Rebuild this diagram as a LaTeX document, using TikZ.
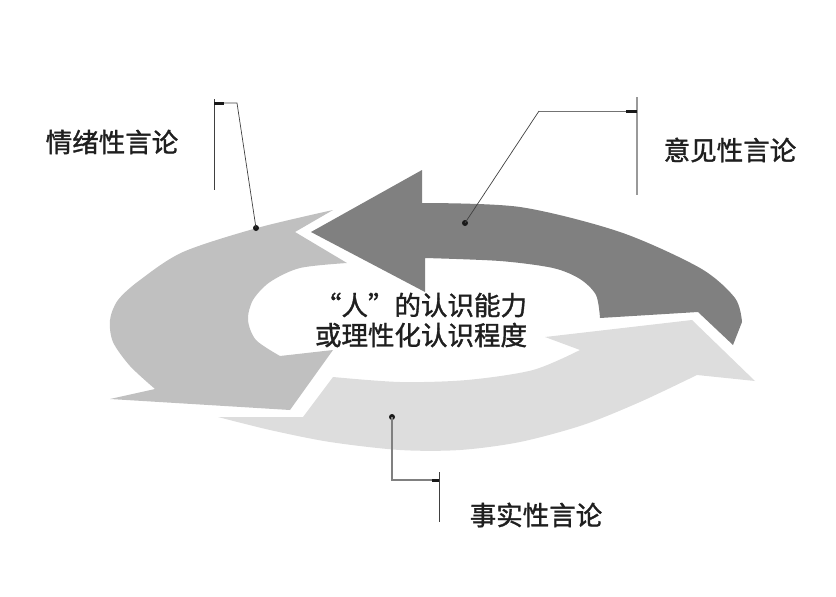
\documentclass[tikz,border=0pt]{standalone}
\usepackage{fontspec}
\newfontfamily\cjk[FakeBold=1.3]{Noto Sans CJK SC}
\definecolor{darkarr}{RGB}{128,128,128}
\definecolor{midarr}{RGB}{192,192,192}
\definecolor{lightarr}{RGB}{221,221,221}
\begin{document}
\begin{tikzpicture}[x=1pt,y=-1pt,
  lbl/.style={font=\cjk\fontsize{26.5}{30}\selectfont, text=black!88, inner sep=0pt},
  dotmark/.style={circle, fill=black!90, inner sep=0pt, minimum size=6pt},
  leader/.style={draw=black!75, line width=0.7pt},
  graylead/.style={draw=black!50, line width=1.1pt},
  bar/.style={draw=black!75, line width=1pt},
  graybar/.style={draw=black!40, line width=1.2pt},
  tickmark/.style={draw=black!90, line width=3pt}]
\useasboundingbox (0,0) rectangle (836,597);

% dark arrow (top, pointing left)
\fill[darkarr] (311,232) -- (422,170) -- (422,203)
  -- plot[smooth] coordinates {(422,203) (520,207) (620,232) (700,268) (735,298) (742,322)}
  -- (733,345) -- (698,312) -- (600,318)
  -- plot[smooth] coordinates {(600,318) (596,295) (580,279) (553,268) (500,261) (425,258)}
  -- (425,292) -- cycle;

% mid-gray arrow (left, pointing down)
\fill[midarr] (333,210) -- (295,232) -- (347,263)
  -- plot[smooth] coordinates {(347,263) (300,268) (270,282) (253,300) (248,320) (256,340) (280,356)}
  -- (333,350) -- (290,410) -- (110,399) -- (155,389)
  -- plot[smooth] coordinates {(155,389) (130,366) (113,342) (110,320) (118,300) (140,280) (183,252) (257,228) (333,210)}
  -- cycle;

% light arrow (bottom, pointing right)
\fill[lightarr] (218,417) -- (303,417) -- (333,377)
  -- plot[smooth] coordinates {(333,377) (400,382) (467,380) (533,370) (580,350)}
  -- (545,337) -- (692,320) -- (755,381) -- (697,375)
  -- plot[smooth] coordinates {(697,375) (640,402) (583,425) (520,442) (460,450) (400,450) (330,442) (270,430) (218,417)}
  -- cycle;

% center text
\node[lbl, align=center] (center) at (421,320) {“人”的认识能力\\或理性化认识程度};

% labels
\node[lbl] (qx) at (112,142) {情绪性言论};
\node[lbl] (yj) at (730,150) {意见性言论};
\node[lbl] (ss) at (536,515) {事实性言论};

% leader: 情绪性言论
\coordinate (qtop) at (214,99);
\coordinate (qbot) at (214,190);
\coordinate (qjoin) at (214,103);
\coordinate (qtick) at (224,103);
\coordinate (qknee) at (237,103);
\node[dotmark] (qdot) at (256,228) {};
\draw[bar] (qtop) -- (qbot);
\draw[leader] (qjoin) -- (qknee) -- (qdot.center);
\draw[tickmark] (qjoin) -- (qtick);

% leader: 意见性言论
\coordinate (ytop) at (637,97);
\coordinate (ybot) at (637,195);
\coordinate (yjoin) at (637,111);
\coordinate (ytick) at (626,111);
\coordinate (yknee) at (539,111);
\node[dotmark] (ydot) at (465,223) {};
\draw[graybar] (ytop) -- (ybot);
\draw[draw=black!55, line width=1pt] (yjoin) -- (yknee);
\draw[leader] (yknee) -- (ydot.center);
\draw[tickmark] (yjoin) -- (ytick);

% leader: 事实性言论
\coordinate (stop) at (439,472);
\coordinate (sbot) at (439,522);
\coordinate (sjoin) at (439,480);
\coordinate (stick) at (432,480);
\coordinate (sknee) at (392,480);
\node[dotmark] (sdot) at (392,417) {};
\draw[bar] (stop) -- (sbot);
\draw[graylead] (sdot.center) -- (sknee) -- (sjoin);
\draw[tickmark] (stick) -- (sjoin);
\end{tikzpicture}
\end{document}
